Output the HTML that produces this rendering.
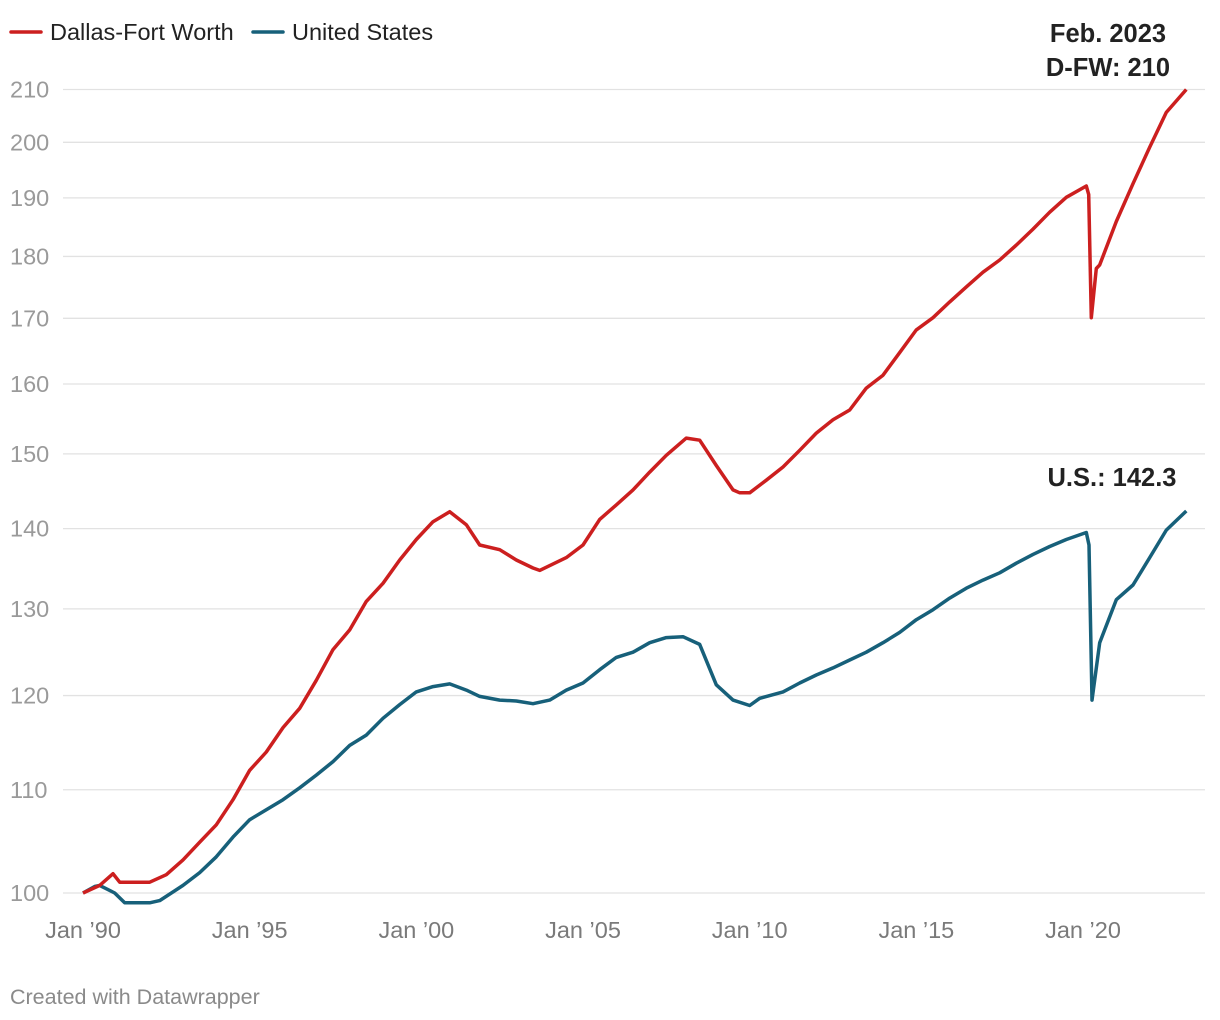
<!DOCTYPE html>
<html><head><meta charset="utf-8"><style>
body{margin:0;background:#fff;font-family:"Liberation Sans",sans-serif;}
svg{display:block}
</style></head><body>
<svg id="chart" width="1220" height="1020" viewBox="0 0 1220 1020">
<g>
<line x1="11" y1="32" x2="41" y2="32" stroke="#cc1f1f" stroke-width="3.5" stroke-linecap="round"/>
<text x="50" y="40" font-size="23.5" fill="#222">Dallas-Fort Worth</text>
<line x1="253" y1="32" x2="283" y2="32" stroke="#17607a" stroke-width="3.5" stroke-linecap="round"/>
<text x="292" y="40" font-size="23.5" fill="#222">United States</text>
</g>
<g id="grid"></g><g id="xaxis"></g><g id="lines"></g>
<text x="1108" y="42" font-size="25.5" font-weight="bold" fill="#222" text-anchor="middle">Feb. 2023</text>
<text x="1108" y="76" font-size="25.5" font-weight="bold" fill="#222" text-anchor="middle">D-FW: 210</text>
<text x="1112" y="486" font-size="25.5" font-weight="bold" fill="#222" text-anchor="middle">U.S.: 142.3</text>
<text x="10" y="1004" font-size="21.5" fill="#8a8a8a">Created with Datawrapper</text>
</svg>
<script>
const yTicks=[100,110,120,130,140,150,160,170,180,190,200,210];
const xTickYears=[1990,1995,2000,2005,2010,2015,2020];
const xTickLabels=["Jan ’90","Jan ’95","Jan ’00","Jan ’05","Jan ’10","Jan ’15","Jan ’20"];
const dfwYears=[1990,1990.5,1990.9,1991.1,1992,1992.5,1993,1993.5,1994,1994.5,1995,1995.5,1996,1996.5,1997,1997.5,1998,1998.5,1999,1999.5,2000,2000.5,2001,2001.5,2001.9,2002.5,2003,2003.5,2003.7,2004.5,2005,2005.5,2006,2006.5,2007,2007.5,2008.1,2008.5,2009,2009.5,2009.7,2010,2010.5,2011,2011.5,2012,2012.5,2013,2013.5,2014,2014.5,2015,2015.5,2016,2016.5,2017,2017.5,2018,2018.5,2019,2019.5,2020.1,2020.17,2020.25,2020.4,2020.5,2021,2021.5,2022,2022.5,2023.1];
const dfwValues=[100,100.7,101.8,101.0,101.0,101.7,103.1,104.8,106.5,109.0,112.0,113.9,116.5,118.6,121.7,125.2,127.5,130.9,133.1,136.0,138.6,140.9,142.2,140.5,137.9,137.3,136.0,135.0,134.7,136.3,137.9,141.2,143.1,145.1,147.5,149.8,152.2,151.9,148.4,145.1,144.7,144.7,146.4,148.2,150.5,152.9,154.8,156.2,159.4,161.3,164.7,168.2,170.1,172.6,175.0,177.4,179.4,181.9,184.6,187.5,190.1,192.1,190.6,170.1,178.0,178.6,185.9,192.5,199.1,205.6,210];
const usYears=[1990,1990.35,1990.5,1990.95,1991.25,1992,1992.3,1993,1993.5,1994,1994.5,1995,1995.5,1996,1996.5,1997,1997.5,1998,1998.5,1999,1999.5,2000,2000.5,2001,2001.5,2001.9,2002.5,2003,2003.5,2004,2004.5,2005,2005.5,2006,2006.5,2007,2007.5,2008,2008.5,2009,2009.5,2010,2010.3,2011,2011.5,2012,2012.5,2013,2013.5,2014,2014.5,2015,2015.5,2016,2016.5,2017,2017.5,2018,2018.5,2019,2019.5,2020.1,2020.18,2020.27,2020.5,2021,2021.5,2022,2022.5,2023.1];
const usValues=[100,100.6,100.7,100,99.1,99.1,99.3,100.7,101.9,103.4,105.3,107.0,108.0,109.0,110.2,111.5,112.9,114.6,115.7,117.5,119.0,120.4,121.0,121.3,120.6,119.9,119.5,119.4,119.1,119.5,120.6,121.4,122.9,124.3,124.9,126.0,126.6,126.7,125.8,121.2,119.5,118.9,119.7,120.4,121.4,122.3,123.1,124.0,124.9,126.0,127.2,128.7,129.9,131.3,132.5,133.5,134.4,135.6,136.7,137.7,138.6,139.5,137.9,119.5,126.0,131.1,132.9,136.3,139.8,142.3];
const NS="http://www.w3.org/2000/svg";
const y=v=>893-1083*Math.log(v/100);
const x=t=>83+(t-1990)*1000/30;
const grid=document.getElementById('grid');
yTicks.forEach(v=>{
 const l=document.createElementNS(NS,'line');
 
 
 l.setAttribute('x1',63);l.setAttribute('x2',1205);l.setAttribute('y1',y(v));l.setAttribute('y2',y(v));
 l.setAttribute('stroke','#e2e2e2');l.setAttribute('stroke-width','1.3');grid.appendChild(l);
 const t=document.createElementNS(NS,'text');
 
 
 t.setAttribute('x',10);t.setAttribute('y',y(v)+8);t.setAttribute('font-size','23.5');t.setAttribute('fill','#9a9a9a');
 t.textContent=v;grid.appendChild(t);
});
const xa=document.getElementById('xaxis');
xTickYears.forEach((yr,i)=>{
 const t=document.createElementNS(NS,'text');
 
 
 t.setAttribute('x',x(yr));t.setAttribute('y',938);t.setAttribute('font-size','23.5');t.setAttribute('fill','#7a7a7a');t.setAttribute('text-anchor','middle');
 t.textContent=xTickLabels[i];xa.appendChild(t);
});
const lines=document.getElementById('lines');
function draw(xs,vs,color,name){
 const p=document.createElementNS(NS,'path');
 
 
 p.setAttribute('d',xs.map((t,i)=>(i?'L':'M')+x(t).toFixed(1)+','+y(vs[i]).toFixed(1)).join(''));
 p.setAttribute('fill','none');p.setAttribute('stroke',color);p.setAttribute('stroke-width','3.5');p.setAttribute('stroke-linejoin','round');
 lines.appendChild(p);
}
draw(usYears,usValues,'#17607a','us-line');
draw(dfwYears,dfwValues,'#cc1f1f','dfw-line');
</script>
</body></html>
